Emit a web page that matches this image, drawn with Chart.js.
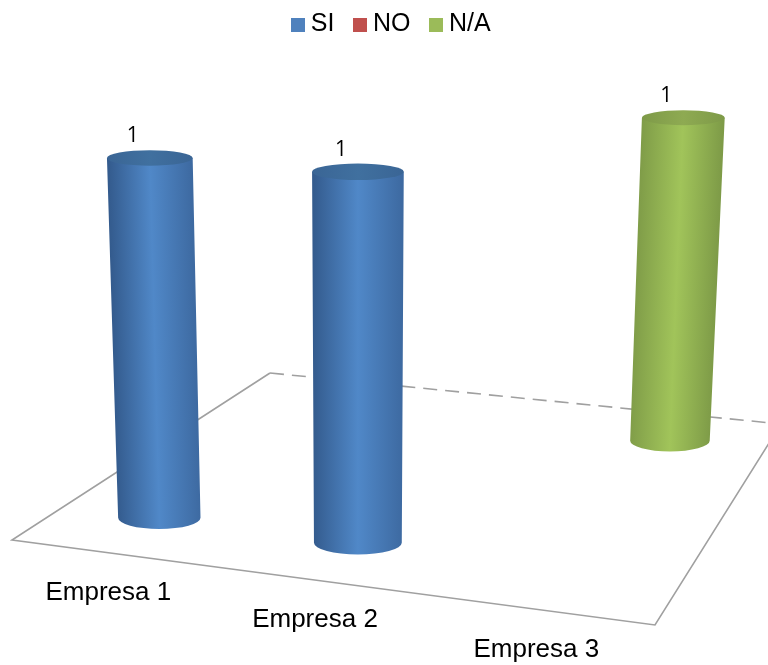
<!DOCTYPE html>
<html lang="es">
<head>
<meta charset="utf-8">
<title>Empresas</title>
<script src="https://cdn.jsdelivr.net/npm/chart.js@4"></script>
<style>
  html, body { margin: 0; background: #fff; }
  canvas { display: block; }
</style>
</head>
<body>
<canvas id="chart" width="768" height="665"></canvas>
<script>
const categories = ['Empresa 1', 'Empresa 2', 'Empresa 3'];
const seriesSi = [1, 1, 0];
const seriesNo = [0, 0, 0];
const seriesNa = [0, 0, 1];

// Floor of the 3D box, in pixels: front-left, front-right, back-right, back-left
const floor = [[12, 540], [655, 625], [781, 424], [270, 373]];
// Verticals converge on this point far below the chart
const vanish = [357, 8000];
const lift = -0.0473;

// Square to quad homography for the floor plane
function floorMatrix([[x0, y0], [x1, y1], [x2, y2], [x3, y3]]) {
    const dx1 = x1 - x2, dx2 = x3 - x2, dx3 = x0 - x1 + x2 - x3;
    const dy1 = y1 - y2, dy2 = y3 - y2, dy3 = y0 - y1 + y2 - y3;
    const den = dx1 * dy2 - dx2 * dy1;
    const g = (dx3 * dy2 - dx2 * dy3) / den;
    const h = (dx1 * dy3 - dx3 * dy1) / den;
    return {
        a: x1 - x0 + g * x1, b: x3 - x0 + h * x3, c: x0,
        d: y1 - y0 + g * y1, e: y3 - y0 + h * y3, f: y0,
        g, h
    };
}
const m = floorMatrix(floor);

// u: across categories, v: depth through the series, z: value height (all 0..1)
function project(u, v, z) {
    const w = m.g * u + m.h * v + 1 + lift * z;
    return {
        x: (m.a * u + m.b * v + m.c + vanish[0] * lift * z) / w,
        y: (m.d * u + m.e * v + m.f + vanish[1] * lift * z) / w
    };
}

// Half width of the cylinder at a given spot
function radiusAt(u, v, z, du) {
    const p = project(u - du, v, z), q = project(u + du, v, z);
    return Math.hypot(q.x - p.x, q.y - p.y) / 2;
}

function shade(ctx, from, to, r, edgeL, mid, edgeR) {
    const dx = to.x - from.x, dy = to.y - from.y, len = Math.hypot(dx, dy);
    const nx = -dy / len * r, ny = dx / len * r;
    const grad = ctx.createLinearGradient(to.x + nx, to.y + ny, to.x - nx, to.y - ny);
    grad.addColorStop(0, edgeL);
    grad.addColorStop(0.5, mid);
    grad.addColorStop(1, edgeR);
    return grad;
}

function drawCylinder(ctx, base, top, rBase, rTop, look) {
    ctx.fillStyle = shade(ctx, base, top, rTop, look.edgeL, look.mid, look.edgeR);
    ctx.beginPath();
    ctx.moveTo(top.x - rTop, top.y);
    ctx.lineTo(top.x + rTop, top.y);
    ctx.lineTo(base.x + rBase, base.y);
    ctx.ellipse(base.x, base.y, rBase, rBase * 0.27, 0, 0, Math.PI);
    ctx.closePath();
    ctx.fill();

    ctx.fillStyle = shade(ctx, base, top, rTop, look.rimL, look.rim, look.rimL);
    ctx.beginPath();
    ctx.ellipse(top.x, top.y, rTop, rTop * 0.18, 0, 0, Math.PI * 2);
    ctx.fill();
}

// Back edges first, the cylinders cover them
function drawFloor(ctx) {
    const [fl, fr, br, bl] = floor;
    ctx.save();
    ctx.strokeStyle = '#a0a0a0';
    ctx.lineWidth = 1.6;
    ctx.setLineDash([14, 8]);
    ctx.beginPath();
    ctx.moveTo(bl[0], bl[1]);
    ctx.lineTo(br[0], br[1]);
    ctx.stroke();
    ctx.setLineDash([]);
    ctx.beginPath();
    ctx.moveTo(bl[0], bl[1]);
    ctx.lineTo(fl[0], fl[1]);
    ctx.lineTo(fr[0], fr[1]);
    ctx.lineTo(br[0], br[1]);
    ctx.stroke();
    ctx.restore();
}

const cylinders = {
    id: 'cylinders',
    beforeDatasetsDraw(chart) {
        const { ctx, scales: { x, y } } = chart;
        const count = chart.data.datasets.length;
        const labels = [];

        drawFloor(ctx);

        for (let i = count - 1; i >= 0; i--) {
            const dataset = chart.data.datasets[i];
            const v = (i + 0.5) / count;
            chart.getDatasetMeta(i).data.forEach((bar, j) => {
                if (!dataset.data[j]) return;
                const u = (bar.x - x.left) / x.width;
                const z = (y.bottom - bar.y) / y.height;
                const du = bar.width / 2 / x.width;
                const base = project(u, v, 0);
                const top = project(u, v, z);
                drawCylinder(ctx, base, top, radiusAt(u, v, 0, du), radiusAt(u, v, z, du), dataset.look);
                labels.push({ text: String(dataset.data[j]), x: top.x - 17, y: top.y - 22 });
            });
        }

        ctx.save();
        ctx.textAlign = 'center';
        ctx.textBaseline = 'middle';
        ctx.fillStyle = '#000';
        ctx.font = '21px "Open Sans"';
        labels.forEach(l => ctx.fillText(l.text, l.x, l.y));

        // Category names follow the front edge of the floor
        ctx.font = '26px "Liberation Sans"';
        x.ticks.forEach((tick, j) => {
            const p = project((x.getPixelForTick(j) - x.left) / x.width, 0, 0);
            ctx.fillText(categories[tick.value], p.x - 2, p.y + 40);
        });
        ctx.restore();

        return false;
    }
};

// Square legend swatch, placed tight to the text
function swatch(color) {
    const c = document.createElement('canvas');
    c.width = c.height = 14;
    const g = c.getContext('2d');
    g.fillStyle = color;
    g.fillRect(0, 0, 14, 14);
    return c;
}

new Chart(document.getElementById('chart'), {
    type: 'bar',
    data: {
        labels: categories,
        datasets: [
            { label: 'SI', data: seriesSi, backgroundColor: '#4F81BD', grouped: false,
              look: { edgeL: '#3d69a0', mid: '#5088c8', edgeR: '#335a8c', rim: '#40709f', rimL: '#3a6595' } },
            { label: 'NO', data: seriesNo, backgroundColor: '#C0504D', grouped: false,
              look: { edgeL: '#9c403e', mid: '#c8524f', edgeR: '#873634', rim: '#a04340', rimL: '#933d3a' } },
            { label: 'N/A', data: seriesNa, backgroundColor: '#9BBB59', grouped: false,
              look: { edgeL: '#7d9a47', mid: '#a1c45a', edgeR: '#7f9c48', rim: '#8eaa52', rimL: '#7e9a48' } }
        ]
    },
    options: {
        responsive: false,
        animation: false,
        // Pulls the legend up and over to the right
        layout: { padding: { top: -13, left: 20 } },
        datasets: { bar: { barPercentage: 0.425, categoryPercentage: 1 } },
        scales: {
            x: { display: false, offset: true },
            y: { display: false, min: 0, max: 1 }
        },
        plugins: {
            tooltip: { enabled: false },
            legend: {
                position: 'top',
                labels: {
                    usePointStyle: true,
                    pointStyleWidth: 1,
                    padding: 25,
                    color: '#000',
                    font: { family: '"Liberation Sans"', size: 25 },
                    generateLabels(chart) {
                        return Chart.defaults.plugins.legend.labels.generateLabels(chart)
                            .map((item, i) => ({ ...item, pointStyle: swatch(chart.data.datasets[i].backgroundColor) }));
                    }
                }
            }
        }
    },
    plugins: [cylinders]
});
</script>
</body>
</html>
